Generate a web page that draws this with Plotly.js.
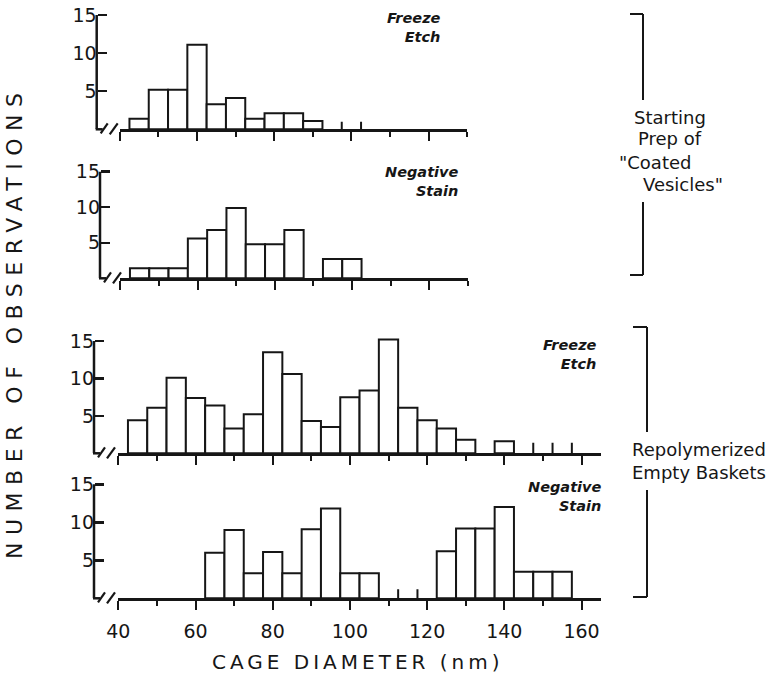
<!DOCTYPE html>
<html>
<head>
<meta charset="utf-8">
<script src="https://cdn.plot.ly/plotly-3.0.1.min.js"></script>
<style>html,body{margin:0;padding:0;background:#fff;}#chart{width:773px;height:679px;}</style>
</head>
<body>
<div id="chart"></div>
<script>
// ---- Data (cage diameter bins in nm, number of observations) ----
// Starting prep of "coated vesicles" — freeze etch
const feStartBins   = [45, 50, 55, 60, 65, 70, 75, 80, 85, 90];
const feStartCounts = [1.4, 5.2, 5.2, 11.1, 3.3, 4.1, 1.4, 2.1, 2.1, 1.1];
const feStartStubEdges = [97.5, 102.5];
const feStartStubCounts = [1.0, 1.0];

// Starting prep — negative stain
const nsStartBins   = [45, 50, 55, 60, 65, 70, 75, 80, 85, 95, 100];
const nsStartCounts = [1.4, 1.4, 1.4, 5.6, 6.8, 9.9, 4.8, 4.8, 6.8, 2.7, 2.7];

// Repolymerized empty baskets — freeze etch
const feRepolBins   = [45, 50, 55, 60, 65, 70, 75, 80, 85, 90, 95, 100, 105, 110, 115, 120, 125, 130, 140];
const feRepolCounts = [4.4, 6.1, 10.1, 7.4, 6.4, 3.3, 5.2, 13.5, 10.6, 4.3, 3.5, 7.5, 8.4, 15.2, 6.1, 4.4, 3.3, 1.8, 1.6];
const feRepolStubEdges = [147.5, 152.5, 157.5];
const feRepolStubCounts = [1.4, 1.4, 1.4];

// Repolymerized empty baskets — negative stain
const nsRepolBins   = [65, 70, 75, 80, 85, 90, 95, 100, 105, 125, 130, 135, 140, 145, 150, 155];
const nsRepolCounts = [6.0, 9.0, 3.3, 6.1, 3.3, 9.1, 11.8, 3.3, 3.3, 6.2, 9.2, 9.2, 12.0, 3.5, 3.5, 3.5];
const nsRepolStubEdges = [112.5, 117.5];
const nsRepolStubCounts = [1.2, 1.2];

const yTickVals = [5, 10, 15];
const yAxisTop = 15;
const xTickLabels = ['40', '60', '80', '100', '120', '140', '160'];
const xTickVals = [40, 60, 80, 100, 120, 140, 160];

const panelLabels = [['Freeze', 'Etch'], ['Negative', 'Stain'], ['Freeze', 'Etch'], ['Negative', 'Stain']];
const yTitle = 'NUMBER OF OBSERVATIONS';
const xTitle = 'CAGE DIAMETER (nm)';
const groupTop = ['Starting', 'Prep of', '"Coated', 'Vesicles"'];
const groupBottom = ['Repolymerized', 'Empty Baskets'];

// ---- Layout helpers (pixel -> paper) ----
const W = 773, H = 679;
const px = v => v / W;
const py = v => 1 - v / H;
const FONT = 'DejaVu Sans';
const INK = '#161616';
const YMAX = 15.5;   // axis range headroom so the tallest bar is not clipped

function barTrace(bins, counts, ax) {
  return {
    type: 'bar', x: bins, y: counts, width: 5,
    xaxis: 'x' + ax, yaxis: 'y' + ax,
    marker: {color: '#ffffff', line: {color: INK, width: 2}},
    hoverinfo: 'x+y', showlegend: false
  };
}
function stubTrace(edges, counts, ax) {
  const xs = [], ys = [];
  edges.forEach((e, i) => { xs.push(e, e, null); ys.push(0, counts[i], null); });
  return {
    type: 'scatter', mode: 'lines', x: xs, y: ys,
    xaxis: 'x' + ax, yaxis: 'y' + ax,
    line: {color: INK, width: 2}, hoverinfo: 'skip', showlegend: false
  };
}

const data = [
  barTrace(feStartBins, feStartCounts, ''),
  stubTrace(feStartStubEdges, feStartStubCounts, ''),
  barTrace(nsStartBins, nsStartCounts, '2'),
  barTrace(feRepolBins, feRepolCounts, '3'),
  stubTrace(feRepolStubEdges, feRepolStubCounts, '3'),
  barTrace(nsRepolBins, nsRepolCounts, '4'),
  stubTrace(nsRepolStubEdges, nsRepolStubCounts, '4')
];

// panel geometry in pixels: baseline, level-15 pixel, y-axis x, x-axis start px, x range end
const panels = [
  {base: 129.3, top: 15,    yx: 96.7,  x0: 119.8, xmax: 130},
  {base: 278.3, top: 171.7, yx: 100,   x0: 120.3, xmax: 130},
  {base: 453.3, top: 341,   yx: 94,    x0: 118.3, xmax: 165},
  {base: 598.3, top: 484.3, yx: 94,    x0: 118.3, xmax: 165}
];
const PXNM = 3.86;

const layout = {
  width: W, height: H,
  margin: {l: 0, r: 0, t: 0, b: 0},
  paper_bgcolor: '#ffffff', plot_bgcolor: 'rgba(0,0,0,0)',
  showlegend: false, bargap: 0,
  font: {family: FONT, color: INK},
  shapes: [], annotations: []
};

panels.forEach((p, i) => {
  const s = i === 0 ? '' : String(i + 1);
  const x1 = p.x0 + (p.xmax - 40) * PXNM;
  const isBottom = i === 3;
  const unit = (p.base - p.top) / 15;
  const topPx = p.base - unit * YMAX;
  layout['xaxis' + s] = {
    domain: [px(p.x0), px(x1)], range: [40, p.xmax], anchor: 'y' + s,
    showline: true, linewidth: 2.5, linecolor: INK,
    showgrid: false, zeroline: false,
    ticks: 'outside', tickvals: xTickVals, ticktext: xTickLabels,
    ticklen: 9, tickwidth: 2, tickcolor: INK,
    minor: {dtick: 10, tick0: 40, ticks: 'outside', ticklen: 5, tickwidth: 2, tickcolor: INK, showgrid: false},
    showticklabels: isBottom, ticklabelstandoff: 5,
    tickfont: {family: FONT, size: 19, color: INK},
    fixedrange: true
  };
  layout['yaxis' + s] = {
    domain: [py(p.base), py(topPx)], range: [0, YMAX], anchor: 'free', position: px(p.yx),
    showline: false,
    showgrid: false, zeroline: false,
    ticks: 'inside', tickvals: yTickVals, ticklen: 9, tickwidth: 2.5, tickcolor: INK,
    tickfont: {family: FONT, size: 19, color: INK},
    fixedrange: true
  };
  // vertical axis line from 0 to 15
  layout.shapes.push({type: 'line', xref: 'paper', yref: 'y' + s, x0: px(p.yx), x1: px(p.yx), y0: 0, y1: yAxisTop,
    line: {color: INK, width: 2.5}});
  // axis break marks "//" and the short foot of the y axis
  const b = p.base, yx = p.yx;
  layout.shapes.push(
    {type: 'line', xref: 'paper', yref: 'paper', x0: px(yx - 1), y0: py(b), x1: px(yx + 6), y1: py(b), line: {color: INK, width: 2.5}},
    {type: 'line', xref: 'paper', yref: 'paper', x0: px(yx + 4), y0: py(b + 4), x1: px(yx + 11), y1: py(b - 6), line: {color: INK, width: 2.2}},
    {type: 'line', xref: 'paper', yref: 'paper', x0: px(yx + 13), y0: py(b + 5), x1: px(yx + 21), y1: py(b - 6), line: {color: INK, width: 2.2}}
  );
});

// panel labels (italic, right aligned)
const labelPos = [
  {x: 443, y: 28},
  {x: 460, y: 182},
  {x: 599, y: 354},
  {x: 603, y: 496}
];
panelLabels.forEach((lab, i) => {
  layout.annotations.push({
    xref: 'paper', yref: 'paper', x: px(labelPos[i].x), y: py(labelPos[i].y),
    xanchor: 'right', yanchor: 'middle', align: 'right', showarrow: false,
    text: lab.join('<br>'),
    font: {family: FONT, size: 14.5, style: 'italic', weight: 'bold', color: INK}
  });
});

// axis titles
layout.annotations.push({
  xref: 'paper', yref: 'paper', x: px(14), y: py(323), textangle: -90,
  xanchor: 'center', yanchor: 'middle', showarrow: false,
  text: '<span style="letter-spacing:7.5px">' + yTitle + '</span>',
  font: {family: FONT, size: 22, color: INK}
});
layout.annotations.push({
  xref: 'paper', yref: 'paper', x: px(358), y: py(662),
  xanchor: 'center', yanchor: 'middle', showarrow: false,
  text: '<span style="letter-spacing:4px">' + xTitle + '</span>',
  font: {family: FONT, size: 20, color: INK}
});

// group brackets
function bracket(top, bot, gapTop, gapBot, xv, xl) {
  return [
    {type: 'line', xref: 'paper', yref: 'paper', x0: px(xl), y0: py(top), x1: px(xv), y1: py(top), line: {color: INK, width: 2}},
    {type: 'line', xref: 'paper', yref: 'paper', x0: px(xv), y0: py(top), x1: px(xv), y1: py(gapTop), line: {color: INK, width: 2}},
    {type: 'line', xref: 'paper', yref: 'paper', x0: px(xv), y0: py(gapBot), x1: px(xv), y1: py(bot), line: {color: INK, width: 2}},
    {type: 'line', xref: 'paper', yref: 'paper', x0: px(xl), y0: py(bot), x1: px(xv), y1: py(bot), line: {color: INK, width: 2}}
  ];
}
layout.shapes.push(...bracket(14, 275, 100, 202, 643, 630));
layout.shapes.push(...bracket(327, 597, 432, 490, 647, 633));

const groupTopPos = [{x: 670, y: 117}, {x: 670, y: 139}, {x: 655, y: 162}, {x: 683, y: 185}];
groupTop.forEach((t, i) => {
  layout.annotations.push({
    xref: 'paper', yref: 'paper', x: px(groupTopPos[i].x), y: py(groupTopPos[i].y),
    xanchor: 'center', yanchor: 'middle', showarrow: false, text: t,
    font: {family: FONT, size: 18, color: INK}
  });
});
layout.annotations.push({
  xref: 'paper', yref: 'paper', x: px(699), y: py(461),
  xanchor: 'center', yanchor: 'middle', showarrow: false, align: 'left',
  text: groupBottom.join('<br>'),
  font: {family: FONT, size: 18, color: INK}
});

Plotly.newPlot('chart', data, layout, {displayModeBar: false, staticPlot: true});
</script>
</body>
</html>
